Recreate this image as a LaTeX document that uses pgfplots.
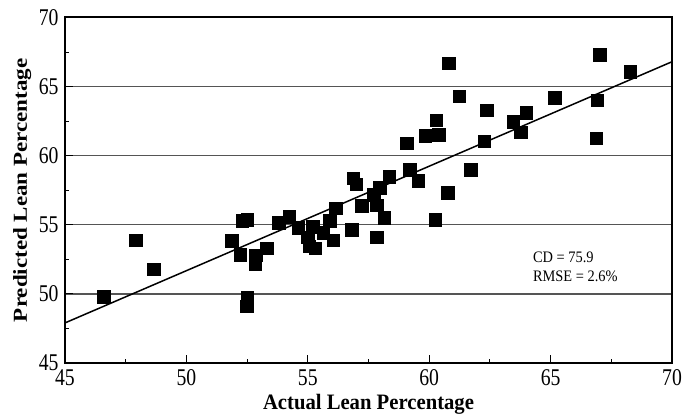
\documentclass[border=0pt]{standalone}
\usepackage{fontspec}
\setmainfont{Liberation Serif}
\newfontfamily\tickfont{Liberation Serif}[FakeStretch=0.82]
\newfontfamily\labfont{Liberation Serif}[FakeStretch=0.94]
\newfontfamily\annfont{Liberation Serif}[FakeStretch=0.9]
\usepackage{graphicx}
\usepackage{pgfplots}
\pgfplotsset{compat=1.18}
\definecolor{gridgray}{RGB}{85,85,85}
\begin{document}
\begin{tikzpicture}
\begin{axis}[
  scale only axis,
  width=607pt, height=345.5pt,
  xmin=45, xmax=70, ymin=45, ymax=70,
  xtick={45,50,...,70}, ytick={45,50,...,70},
  minor x tick num=1, minor y tick num=1,
  tick align=inside,
  xtick pos=bottom, ytick pos=left,
  major tick length=8pt, minor tick length=4.5pt,
  every tick/.style={black, line width=1pt},
  axis line style={line width=2pt},
  ymajorgrids,
  major grid style={gridgray, line width=1.3pt},
  /pgf/number format/assume math mode=true,
  tick label style={font=\fontsize{24}{28}\tickfont},
  xticklabel style={yshift=-3pt},
  yticklabel style={xshift=-3pt},
  xlabel={Actual Lean Percentage},
  ylabel={\scalebox{1}[0.86]{Predicted Lean Percentage}},
  xlabel style={font=\fontsize{22}{26}\labfont\bfseries, at={(axis description cs:0.5,0)}, anchor=north, yshift=-31pt, inner sep=0pt},
  ylabel style={font=\fontsize{23}{27}\selectfont\bfseries, at={(axis description cs:-0.0857,0.5)}, anchor=north, inner sep=0pt},
  clip=false,
]
\addplot[black, line width=1.5pt, forget plot] coordinates {(45,47.9) (70,66.8)};
\addplot[only marks, mark=square*, mark size=6.3pt, black] coordinates {
(46.6,49.8) (47.9,53.9) (48.65,51.8) (51.86,53.85) (52.3,55.3) (52.5,55.35)
(52.22,52.85) (52.85,52.8) (52.83,52.15) (53.3,53.3) (52.5,49.75) (52.48,49.1)
(53.8,55.15) (54.24,55.6) (54.6,54.8) (55.2,54.86) (55.0,54.1) (55.05,53.45)
(55.3,53.3) (55.64,54.45) (55.9,55.3) (56.05,53.9) (56.16,56.2) (56.82,54.65)
(56.87,58.36) (57.0,57.95) (57.22,56.4) (57.72,57.16) (57.84,56.43) (57.95,57.7)
(58.15,55.5) (57.84,54.1) (58.36,58.5) (59.07,60.9) (59.2,58.98) (59.55,58.2)
(59.83,61.43) (60.38,61.5) (60.28,62.58) (60.8,66.7) (61.23,64.3) (60.24,55.35)
(60.75,57.33) (61.72,59.0) (62.26,61.06) (62.37,63.3) (63.46,62.45) (63.78,61.7)
(64.0,63.1) (65.18,64.2) (66.92,64.03) (67.03,67.29) (66.87,61.26) (68.27,66.08)
};
\node[anchor=west, align=left, font=\fontsize{16}{19}\annfont, inner sep=0pt] at (axis cs:64.27,51.95) {CD = 75.9\\RMSE = 2.6\%};
\end{axis}
\path (current axis.south west) ++(-65pt,-57pt) coordinate (BBA);
\path (current axis.north east) ++(13pt,17.5pt) coordinate (BBB);
\pgfresetboundingbox
\path (BBA) rectangle (BBB);
\end{tikzpicture}
\end{document}
